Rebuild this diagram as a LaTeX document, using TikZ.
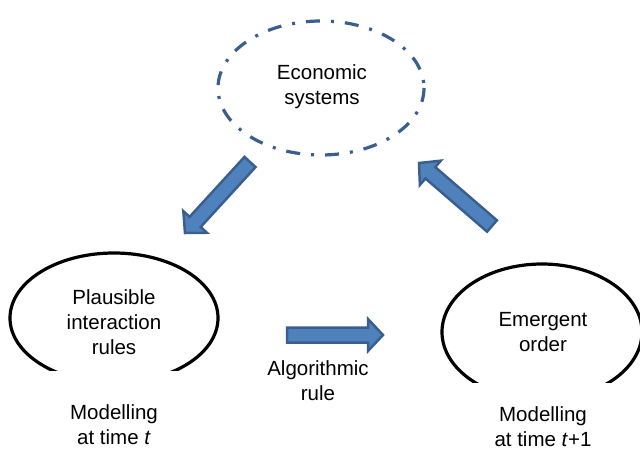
\documentclass[tikz,border=0pt]{standalone}
\usepackage{fontspec}
\setmainfont{Liberation Sans}
\usetikzlibrary{calc}
\definecolor{arrfill}{HTML}{4F81BD}
\definecolor{arrline}{HTML}{3A5F8F}
% block arrow from #1 (tail) to #2 (tip)
\newcommand\blockarrow[2]{%
  \coordinate (#1-h) at ($(#2)!15pt!(#1)$);
  \draw[barr] ($(#1)!7.5pt!90:(#2)$) -- ($(#1-h)!7.5pt!90:(#2)$)
    -- ($(#1-h)!16pt!90:(#2)$) -- (#2) -- ($(#1-h)!16pt!-90:(#2)$)
    -- ($(#1-h)!7.5pt!-90:(#2)$) -- ($(#1)!7.5pt!-90:(#2)$) -- cycle;}
\begin{document}
\begin{tikzpicture}[x=1pt, y=-1pt,
  txt/.style={font=\fontsize{20.5}{25}\selectfont, align=center},
  oval/.style={line width=3.2pt},
  dashoval/.style={draw=arrline, line width=3.2pt,
    dash pattern=on 14pt off 11pt on 3pt off 11pt},
  barr/.style={fill=arrfill, draw=arrline, line width=2.5pt}]
  \useasboundingbox (0,0) rectangle (640,450);
  \draw[dashoval] (321,88) ellipse [x radius=103, y radius=67];
  \begin{scope}
    \clip (0,0) rectangle (640,370);
    \draw[oval] (114,318) ellipse [x radius=104, y radius=65];
  \end{scope}
  \begin{scope}
    \clip (0,0) rectangle (640,382);
    \draw[oval] (542,332) ellipse [x radius=100, y radius=68];
  \end{scope}
  \node[txt] (econ) at (322,87) {Economic\\systems};
  \node[txt] (rules) at (114,322) {Plausible\\interaction\\rules};
  \node[txt] (order) at (543,332) {Emergent\\order};
  \node[txt] (mt) at (114,425) {Modelling\\at time \textit{t}};
  \node[txt] (mt1) at (543,427) {Modelling\\at time \textit{t}+1};
  \node[txt] (alg) at (318,381) {Algorithmic\\rule};
  \coordinate (da) at (250,162); \coordinate (db) at (185,233);
  \coordinate (ua) at (492,226); \coordinate (ub) at (419,163);
  \coordinate (ra) at (287,335); \coordinate (rb) at (383,335);
  \blockarrow{da}{db}
  \blockarrow{ua}{ub}
  \blockarrow{ra}{rb}
\end{tikzpicture}
\end{document}
